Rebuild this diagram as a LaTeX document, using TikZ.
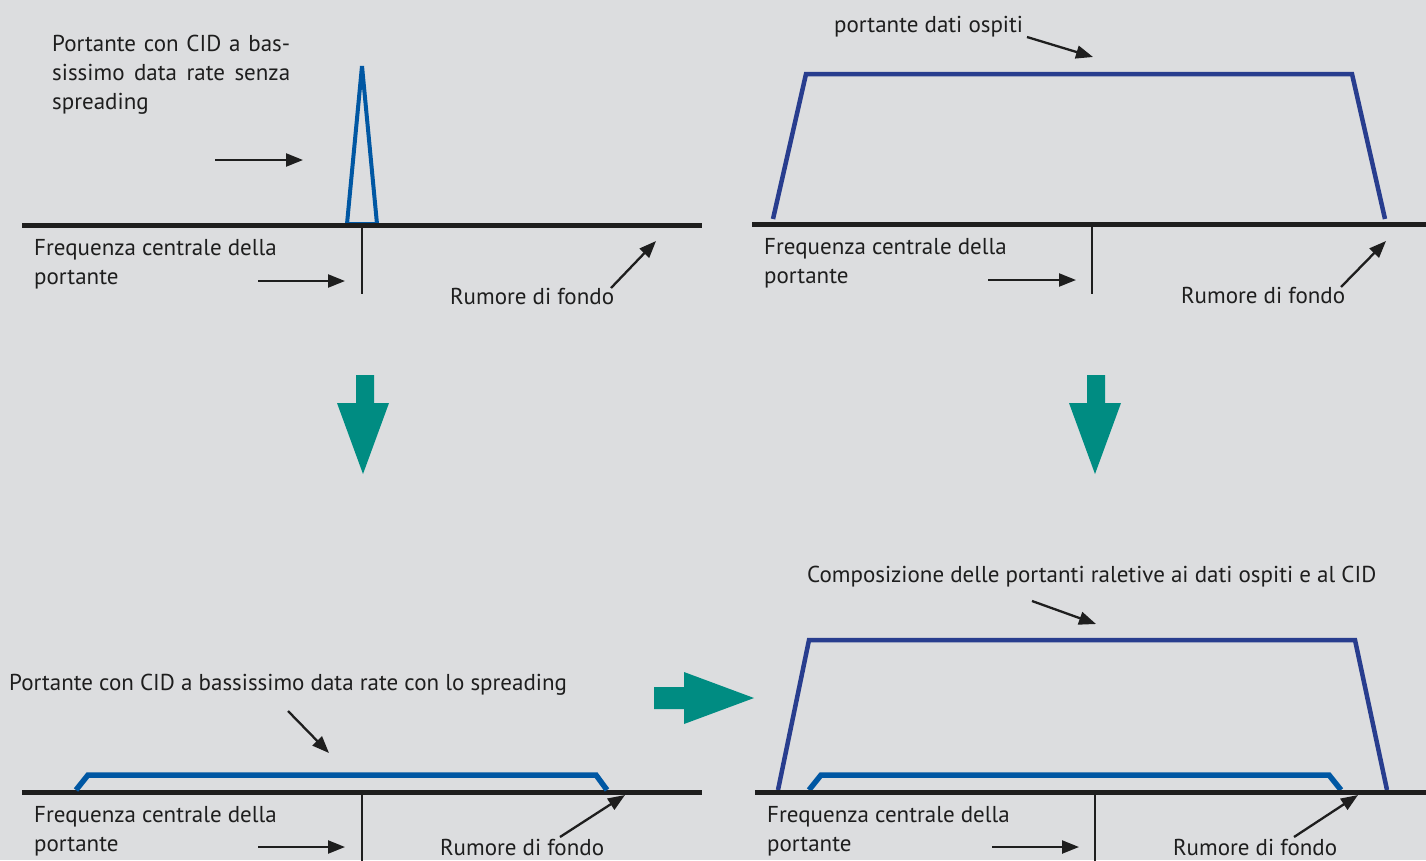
\documentclass[tikz,border=0pt]{standalone}
\usepackage{fontspec}
\setmainfont{PT Sans}
\usetikzlibrary{arrows.meta}
\definecolor{bg}{HTML}{DCDDDF}
\definecolor{teal1}{HTML}{008C82}
\definecolor{dblue}{HTML}{283D8E}
\definecolor{lblue}{HTML}{0057A3}
\definecolor{ink}{HTML}{1E1E1E}
\begin{document}
\begin{tikzpicture}[x=1pt,y=-1pt,
  lbl/.style={anchor=base west,inner sep=0pt,font=\fontsize{23}{27}\selectfont,text=ink},
  axis/.style={line width=5pt,ink},
  tick/.style={line width=2pt,ink},
  ptr/.style={line width=2.3pt,ink,-{Triangle[length=17pt,width=13pt]}},
  spec1/.style={line width=4.5pt,dblue,line join=miter},
  spec2/.style={line width=5.5pt,lblue,line join=miter},
  bigarrow/.style={fill=teal1,draw=none}]
\fill[bg] (0,0) rectangle (1426,860);
\useasboundingbox (0,0) rectangle (1426,860);

% ---------- Panel top-left ----------
\draw[spec2,line width=4pt] (347,224) -- (362,66) -- (377,224) -- cycle;
\draw[axis] (22,225) -- (702,225);
\coordinate (c1) at (362,225);
\coordinate (c1b) at (362,294);
\draw[tick] (c1) -- (c1b);
\node[lbl] (t1a) at (52,51) {\makebox[238pt][s]{Portante con CID a bas-}};
\node[lbl] (t1b) at (52,80) {\makebox[238pt][s]{sissimo data rate senza}};
\node[lbl] (t1c) at (52,109) {spreading};
\coordinate (a1s) at (215,160); \coordinate (a1e) at (303,160);
\draw[ptr] (a1s) -- (a1e);
\node[lbl] (f1a) at (34,255) {Frequenza centrale della};
\node[lbl] (f1b) at (34,284) {portante};
\coordinate (b1s) at (258,281); \coordinate (b1e) at (345,281);
\draw[ptr] (b1s) -- (b1e);
\node[lbl] (r1) at (450,304) {Rumore di fondo};
\coordinate (n1s) at (611,288); \coordinate (n1e) at (656,241);
\draw[ptr] (n1s) -- (n1e);

% ---------- Panel top-right ----------
\draw[spec1] (773,219) -- (806,74) -- (1352,74) -- (1385,219);
\draw[axis] (752,224) -- (1426,224);
\coordinate (c2) at (1092,224);
\coordinate (c2b) at (1092,294);
\draw[tick] (c2) -- (c2b);
\node[lbl] (t2) at (834,32) {portante dati ospiti};
\coordinate (a2s) at (1027,37); \coordinate (a2e) at (1093,57);
\draw[ptr] (a2s) -- (a2e);
\node[lbl] (f2a) at (764,254) {Frequenza centrale della};
\node[lbl] (f2b) at (764,283) {portante};
\coordinate (b2s) at (988,280); \coordinate (b2e) at (1076,280);
\draw[ptr] (b2s) -- (b2e);
\node[lbl] (r2) at (1181,303) {Rumore di fondo};
\coordinate (n2s) at (1341,287); \coordinate (n2e) at (1386,241);
\draw[ptr] (n2s) -- (n2e);

% ---------- Big teal arrows ----------
\fill[bigarrow] (356,375) -- (374,375) -- (374,403) -- (389,403) -- (363,474) -- (337,403) -- (356,403) -- cycle;
\fill[bigarrow] (1087,375) -- (1105,375) -- (1105,403) -- (1121,403) -- (1095,474) -- (1069,403) -- (1087,403) -- cycle;
\fill[bigarrow] (654,687) -- (684,687) -- (684,672) -- (754,698) -- (684,724) -- (684,709) -- (654,709) -- cycle;

% ---------- Panel bottom-left ----------
\draw[axis] (22,792) -- (702,792);
\draw[spec2] (76,790) -- (88,775) -- (596,775) -- (607,790);
\coordinate (c3) at (362,792);
\coordinate (c3b) at (362,862);
\draw[tick] (c3) -- (c3b);
\node[lbl] (t3) at (9,690) {Portante con CID a bassissimo data rate con lo spreading};
\coordinate (a3s) at (288,711); \coordinate (a3e) at (329,753);
\draw[ptr] (a3s) -- (a3e);
\node[lbl] (f3a) at (34,822) {Frequenza centrale della};
\node[lbl] (f3b) at (34,851) {portante};
\coordinate (b3s) at (258,847); \coordinate (b3e) at (345,847);
\draw[ptr] (b3s) -- (b3e);
\node[lbl] (r3) at (440,855) {Rumore di fondo};
\coordinate (n3s) at (560,837); \coordinate (n3e) at (625,795);
\draw[ptr] (n3s) -- (n3e);

% ---------- Panel bottom-right ----------
\draw[spec1] (778,790) -- (809,640) -- (1355,640) -- (1387,790);
\draw[spec2] (809,790) -- (821,775) -- (1329,775) -- (1341,790);
\draw[axis] (755,792) -- (1426,792);
\coordinate (c4) at (1095,792);
\coordinate (c4b) at (1095,862);
\draw[tick] (c4) -- (c4b);
\node[lbl] (t4) at (807,582) {Composizione delle portanti raletive ai dati ospiti e al CID};
\coordinate (a4s) at (1032,601); \coordinate (a4e) at (1096,624);
\draw[ptr] (a4s) -- (a4e);
\node[lbl] (f4a) at (767,822) {Frequenza centrale della};
\node[lbl] (f4b) at (767,851) {portante};
\coordinate (b4s) at (992,847); \coordinate (b4e) at (1079,847);
\draw[ptr] (b4s) -- (b4e);
\node[lbl] (r4) at (1173,855) {Rumore di fondo};
\coordinate (n4s) at (1294,837); \coordinate (n4e) at (1358,795);
\draw[ptr] (n4s) -- (n4e);
\end{tikzpicture}
\end{document}
